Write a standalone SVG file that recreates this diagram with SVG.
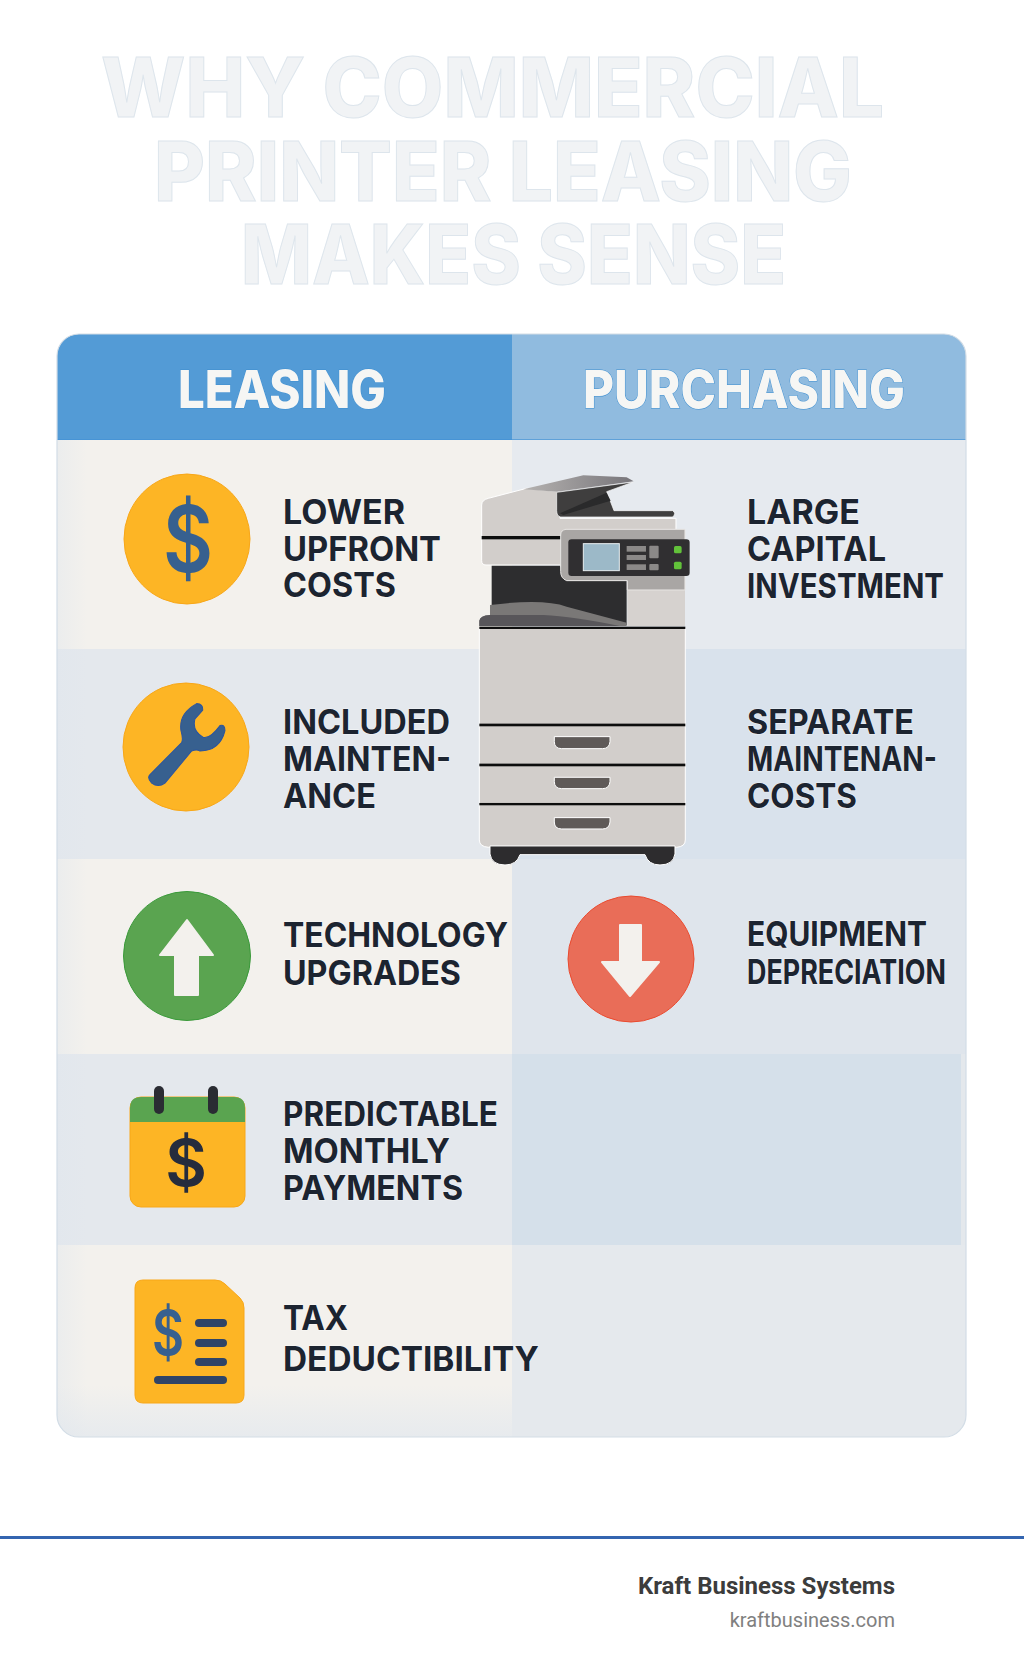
<svg xmlns="http://www.w3.org/2000/svg" width="1024" height="1666" viewBox="0 0 1024 1666">
<style>
.title{font-family:Inter,"Liberation Sans",sans-serif;font-weight:800;font-size:82px;fill:#f1f3f5;stroke:#dde5ec;stroke-width:1}
.head{font-family:Inter,"Liberation Sans",sans-serif;font-weight:800;font-size:52px;fill:#f6f6f4;stroke:#3f8fd0;stroke-width:1;paint-order:stroke}
.item{font-family:Inter,"Liberation Sans",sans-serif;font-weight:700;font-size:33.5px;fill:#1c2430;stroke:#fff;stroke-width:1.2;stroke-opacity:.55;paint-order:stroke}
.disc{fill:#fdb525;stroke:#f8a718;stroke-width:1}
.dollar{font-family:Inter,"Liberation Sans",sans-serif;font-weight:600;text-anchor:middle}
.bar{fill:#2f4467}
.blk{fill:#0d0d0d}
.handle{fill:#5f5a58;stroke:#fff;stroke-width:3}
.btn{fill:#8b8988}
.led{fill:#62c23a}
</style>
<defs>
<clipPath id="cardClip"><rect x="57" y="334" width="909" height="1103" rx="22"/></clipPath>
<linearGradient id="edge" x1="0" x2="1" y1="0" y2="0"><stop offset="0" stop-color="#dfe6ee" stop-opacity=".4"/><stop offset="1" stop-color="#dfe6ee" stop-opacity="0"/></linearGradient>
<linearGradient id="bottomFade" x1="0" x2="0" y1="0" y2="1"><stop offset="0" stop-color="#dfe6ee" stop-opacity="0"/><stop offset="1" stop-color="#dfe6ee" stop-opacity=".6"/></linearGradient>
<linearGradient id="lid" x1="0" x2="1" y1="0" y2="0"><stop offset="0" stop-color="#b5b2b0"/><stop offset="1" stop-color="#77757a"/></linearGradient>
</defs>
<rect width="1024" height="1666" fill="#fff"/>

<g id="title">
<text class="title" x="101" y="117" textLength="783" lengthAdjust="spacingAndGlyphs">WHY COMMERCIAL</text>
<text class="title" x="154" y="201" textLength="698" lengthAdjust="spacingAndGlyphs">PRINTER LEASING</text>
<text class="title" x="241" y="284" textLength="545" lengthAdjust="spacingAndGlyphs">MAKES SENSE</text>
</g>

<g id="table">
<g clip-path="url(#cardClip)">
<rect x="57" y="334" width="455" height="106" fill="#539bd6"/>
<rect x="512" y="334" width="454" height="106" fill="#90bbdf"/>
<rect x="57" y="439" width="909" height="1.5" fill="#3f8fd6" opacity=".6"/>
<rect x="57" y="440" width="455" height="209" fill="#f3f1ed"/>
<rect x="512" y="440" width="454" height="209" fill="#e6eaef"/>
<rect x="57" y="649" width="455" height="210" fill="#e4e8ed"/>
<rect x="512" y="649" width="454" height="210" fill="#d9e2ec"/>
<rect x="57" y="859" width="455" height="195" fill="#f3f1ed"/>
<rect x="512" y="859" width="454" height="195" fill="#dfe5ec"/>
<rect x="57" y="1054" width="455" height="191" fill="#e4e8ed"/>
<rect x="512" y="1054" width="449" height="191" fill="#d5e0ea"/>
<rect x="961" y="1054" width="5" height="191" fill="#e4e8ec"/>
<rect x="57" y="1245" width="455" height="192" fill="#f3f1ed"/>
<rect x="512" y="1245" width="454" height="192" fill="#e5e9ed"/>
<rect x="57" y="440" width="30" height="997" fill="url(#edge)"/>
<rect x="57" y="1385" width="455" height="52" fill="url(#bottomFade)"/>
</g>
<rect x="57" y="334" width="909" height="1103" rx="22" fill="none" stroke="#d3dde6" stroke-width="1.2"/>
<text class="head" x="178" y="408" textLength="208" lengthAdjust="spacingAndGlyphs">LEASING</text>
<text class="head" x="583" y="408" textLength="322" lengthAdjust="spacingAndGlyphs">PURCHASING</text>
</g>

<g id="printer" transform="translate(460 450) scale(.3333)">
<path d="M58 535 H676 V1170 Q676 1190 650 1192 H85 Q58 1190 58 1170 Z" fill="#d2cecb" stroke="#fff" stroke-width="3"/>
<path d="M90 1188 H645 V1212 Q640 1245 600 1245 Q565 1245 555 1214 H180 Q170 1245 135 1245 Q95 1245 90 1212 Z" fill="#2d2c2e" stroke="#fff" stroke-width="3"/>
<rect class="blk" x="58" y="821" width="618" height="8"/>
<rect class="blk" x="58" y="941" width="618" height="8"/>
<rect class="blk" x="58" y="1059" width="618" height="7"/>
<path class="handle" d="M283 860 H450 V875 Q448 896 428 896 H305 Q283 896 283 875 Z"/>
<path class="handle" d="M283 982 H450 V995 Q448 1016 428 1016 H305 Q283 1016 283 995 Z"/>
<path class="handle" d="M283 1103 H450 V1116 Q448 1137 428 1137 H305 Q283 1137 283 1116 Z"/>
<path d="M65 165 Q65 150 85 145 L200 115 L300 125 V205 H648 V240 H320 L305 345 H78 Q65 345 65 332 Z" fill="#d2cecb" stroke="#fff" stroke-width="3"/>
<rect class="blk" x="65" y="258" width="242" height="10"/>
<path d="M290 127 L520 96 L440 125 L462 182 H638 Q650 190 638 201 H302 Q290 198 290 182 Z" fill="#3f3e3e" stroke="#fff" stroke-width="2"/>
<path d="M300 190 L440 128 L452 152 L310 195 Z" fill="#2a2a2b"/>
<path d="M190 118 L370 76 L500 82 L521 94 L290 125 Z" fill="url(#lid)"/>
<path d="M95 347 H300 L320 392 H500 V525 L95 465 Z" fill="#2d2d2f"/>
<path d="M90 490 V465 Q250 445 320 470 L500 518 V528 H58 V512 Q60 497 90 495 Z" fill="#7a7877"/>
<path d="M58 528 V512 Q60 497 90 495 H250 Q340 500 480 528 Z" fill="#58565a"/>
<rect x="502" y="420" width="173" height="108" fill="#d6d2cf"/>
<path d="M318 238 H675 V420 H502 V392 H320 Q302 385 302 365 V255 Q302 240 318 238 Z" fill="#a9a6a4" stroke="#e8e6e4" stroke-width="3"/>
<rect x="325" y="268" width="364" height="110" rx="10" fill="#302f31"/>
<rect x="370" y="281" width="108" height="81" fill="#9cb9c8" stroke="#e8eef0" stroke-width="3"/>
<rect class="btn" x="500" y="288" width="58" height="17"/>
<rect class="btn" x="500" y="315" width="58" height="15"/>
<rect class="btn" x="500" y="343" width="58" height="17"/>
<rect class="btn" x="568" y="287" width="28" height="38" rx="3"/>
<rect class="btn" x="568" y="342" width="28" height="19" rx="3"/>
<rect class="led" x="642" y="288" width="23" height="22" rx="5"/>
<rect class="led" x="642" y="335" width="23" height="23" rx="5"/>
<rect class="blk" x="58" y="530" width="618" height="7"/>
</g>

<g id="lower-upfront-costs">
<ellipse class="disc" cx="187" cy="539" rx="63" ry="65"/>
<text class="dollar" x="188" y="572" font-size="92" font-weight="500" fill="#37608f" textLength="50" lengthAdjust="spacingAndGlyphs">$</text>
<text class="item" x="283" y="524" textLength="122" lengthAdjust="spacingAndGlyphs">LOWER</text>
<text class="item" x="283" y="561" textLength="158" lengthAdjust="spacingAndGlyphs">UPFRONT</text>
<text class="item" x="283" y="597" textLength="113" lengthAdjust="spacingAndGlyphs">COSTS</text>
</g>
<g id="included-maintenance">
<ellipse class="disc" cx="186" cy="747" rx="63" ry="64"/>
<path transform="translate(50 320) scale(.3333 .338)" d="M300 1345 L395 1250 Q400 1240 393 1215 Q385 1165 440 1135 Q460 1135 458 1155 L435 1180 Q425 1215 460 1235 Q480 1240 510 1200 Q525 1195 525 1215 Q510 1275 450 1275 Q440 1270 425 1275 L345 1370 Q325 1385 305 1370 Q290 1355 300 1345 Z" fill="#37608f" stroke="#2a55a0" stroke-width="3"/>
<text class="item" x="283" y="734" textLength="167" lengthAdjust="spacingAndGlyphs">INCLUDED</text>
<text class="item" x="283" y="771" textLength="168" lengthAdjust="spacingAndGlyphs">MAINTEN-</text>
<text class="item" x="283" y="808" textLength="93" lengthAdjust="spacingAndGlyphs">ANCE</text>
</g>
<g id="technology-upgrades">
<ellipse cx="187" cy="956" rx="63.5" ry="64.5" fill="#5aa450" stroke="#3a9a3a" stroke-width="1"/>
<path d="M187 920 L213 955 H198 V995 H175 V955 H160 Z" fill="#f3f1ed" stroke="#f3f1ed" stroke-width="2" stroke-linejoin="round"/>
<text class="item" x="283" y="947" textLength="225" lengthAdjust="spacingAndGlyphs">TECHNOLOGY</text>
<text class="item" x="283" y="985" textLength="178" lengthAdjust="spacingAndGlyphs">UPGRADES</text>
</g>
<g id="predictable-monthly-payments">
<rect x="130" y="1097" width="115" height="110" rx="11" fill="#fdb525" stroke="#f8a718"/>
<path d="M130 1122 V1108 Q130 1097 141 1097 H234 Q245 1097 245 1108 V1122 Z" fill="#5aa450"/>
<rect x="154" y="1086" width="10" height="28" rx="5" fill="#2a2c33"/>
<rect x="208" y="1086" width="10" height="28" rx="5" fill="#2a2c33"/>
<text class="dollar" x="186" y="1186" font-size="64" font-weight="700" fill="#252c3d">$</text>
<text class="item" x="283" y="1126" textLength="215" lengthAdjust="spacingAndGlyphs">PREDICTABLE</text>
<text class="item" x="283" y="1163" textLength="167" lengthAdjust="spacingAndGlyphs">MONTHLY</text>
<text class="item" x="283" y="1200" textLength="180" lengthAdjust="spacingAndGlyphs">PAYMENTS</text>
</g>
<g id="tax-deductibility">
<path d="M143 1280 H215 Q221 1280 225 1284 L240 1298 Q244 1302 244 1308 V1395 Q244 1403 236 1403 H143 Q135 1403 135 1395 V1288 Q135 1280 143 1280 Z" fill="#fdb525" stroke="#f8a718"/>
<text class="dollar" x="168" y="1355" font-size="62" font-weight="500" fill="#37608f" textLength="32" lengthAdjust="spacingAndGlyphs">$</text>
<rect class="bar" x="195" y="1319" width="32" height="8" rx="4"/>
<rect class="bar" x="195" y="1339" width="32" height="8" rx="4"/>
<rect class="bar" x="195" y="1358" width="32" height="8" rx="4"/>
<rect class="bar" x="154" y="1376" width="73" height="8" rx="4"/>
<text class="item" x="283" y="1330" textLength="65" lengthAdjust="spacingAndGlyphs">TAX</text>
<text class="item" x="283" y="1371" textLength="256" lengthAdjust="spacingAndGlyphs">DEDUCTIBILITY</text>
</g>
<g id="large-capital-investment">
<text class="item" x="747" y="524" textLength="113" lengthAdjust="spacingAndGlyphs">LARGE</text>
<text class="item" x="747" y="561" textLength="139" lengthAdjust="spacingAndGlyphs">CAPITAL</text>
<text class="item" x="747" y="598" textLength="197" lengthAdjust="spacingAndGlyphs">INVESTMENT</text>
</g>
<g id="separate-maintenance-costs">
<text class="item" x="747" y="734" textLength="167" lengthAdjust="spacingAndGlyphs">SEPARATE</text>
<text class="item" x="747" y="771" textLength="190" lengthAdjust="spacingAndGlyphs">MAINTENAN-</text>
<text class="item" x="747" y="808" textLength="110" lengthAdjust="spacingAndGlyphs">COSTS</text>
</g>
<g id="equipment-depreciation">
<circle cx="631" cy="959" r="63" fill="#e96d58" stroke="#ea4b30" stroke-width="1"/>
<path d="M620 925 H641 V962 H659 L630 996 L602 962 H620 Z" fill="#f3f1ed" stroke="#f3f1ed" stroke-width="2" stroke-linejoin="round"/>
<text class="item" x="747" y="946" textLength="180" lengthAdjust="spacingAndGlyphs">EQUIPMENT</text>
<text class="item" x="747" y="984" textLength="199" lengthAdjust="spacingAndGlyphs">DEPRECIATION</text>
</g>

<g id="footer">
<rect x="0" y="1536" width="1024" height="3" fill="#3465b0"/>
<text x="895" y="1594" text-anchor="end" font-family="Roboto,'Liberation Sans',sans-serif" font-weight="700" font-size="24" fill="#3c3c3c">Kraft Business Systems</text>
<text x="895" y="1627" text-anchor="end" font-family="Roboto,'Liberation Sans',sans-serif" font-size="20" fill="#808080">kraftbusiness.com</text>
</g>
</svg>
